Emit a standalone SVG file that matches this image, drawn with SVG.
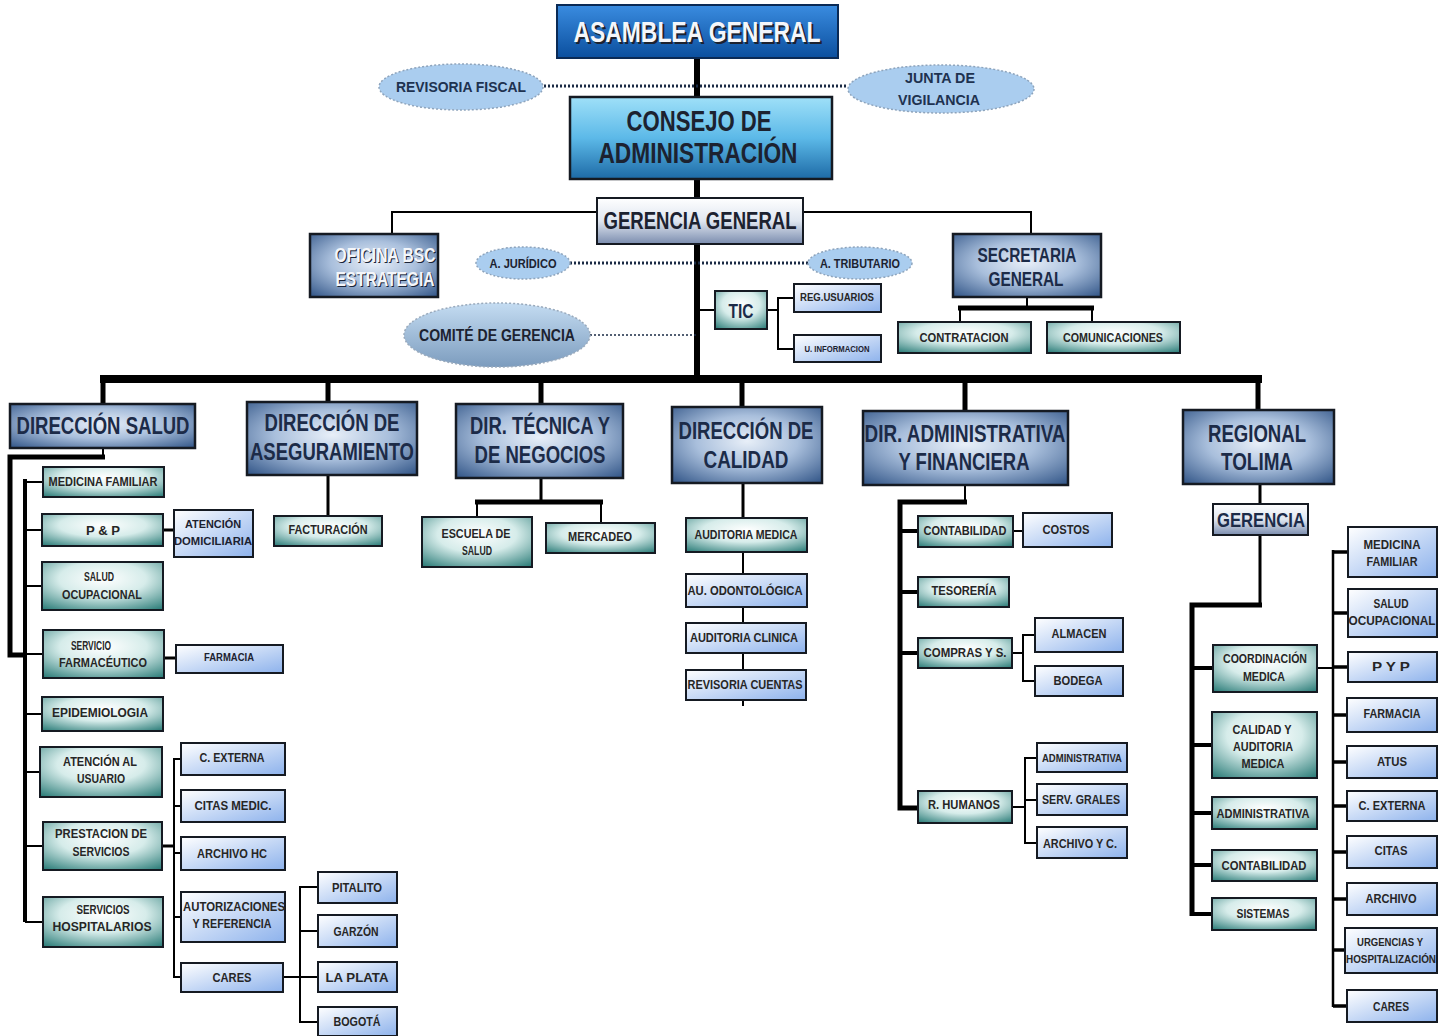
<svg xmlns="http://www.w3.org/2000/svg" width="1447" height="1036" viewBox="0 0 1447 1036">
<defs>
<linearGradient id="gAsm" x1="0" y1="0" x2="0" y2="1"><stop offset="0" stop-color="#3a8ce0"/><stop offset="1" stop-color="#0b4f9e"/></linearGradient>
<linearGradient id="gCon" x1="0" y1="0" x2="0" y2="1"><stop offset="0" stop-color="#9fe0f8"/><stop offset="0.5" stop-color="#5cb9e8"/><stop offset="1" stop-color="#1d6aa6"/></linearGradient>
<linearGradient id="gGer" x1="0" y1="0" x2="0" y2="1"><stop offset="0" stop-color="#ffffff"/><stop offset="0.5" stop-color="#dfe6f0"/><stop offset="1" stop-color="#7a8cae"/></linearGradient>
<radialGradient id="gDir" cx="0.5" cy="0.45" r="0.75"><stop offset="0" stop-color="#e8eff8"/><stop offset="0.45" stop-color="#a9bfdc"/><stop offset="1" stop-color="#2d5184"/></radialGradient>
<radialGradient id="gTeal" cx="0.5" cy="0.35" r="0.8"><stop offset="0" stop-color="#ffffff"/><stop offset="0.45" stop-color="#d6ecea"/><stop offset="1" stop-color="#2c7d79"/></radialGradient>
<linearGradient id="gLt" x1="0" y1="0" x2="1" y2="1"><stop offset="0" stop-color="#ffffff"/><stop offset="1" stop-color="#8db2ec"/></linearGradient>
<linearGradient id="gCom" x1="0" y1="0" x2="0" y2="1"><stop offset="0" stop-color="#c4dcf2"/><stop offset="1" stop-color="#7c9cbe"/></linearGradient>
<style>
.bx{stroke:#151a22;stroke-width:2}
.dir{fill:url(#gDir);stroke:#151a22;stroke-width:2.5}
.teal{fill:url(#gTeal)}
.lt{fill:url(#gLt)}
.el{fill:#aacdef;stroke:#8ea4bc;stroke-width:1.5;stroke-dasharray:2 2}
text{font-family:"Liberation Sans Narrow","Liberation Sans",Arial,sans-serif;font-weight:bold;text-anchor:middle;fill:#1c2230}
.s{font-size:12.5px;fill:#262626}
.xs{font-size:10px;fill:#262626}
.d{font-size:23px;fill:#1c2b48}
.m{font-size:20px;fill:#1c2b48}
.e{font-size:15px;fill:#1e3250}
.w{fill:#f4f6fa}
.sh{fill:#1a2438}
.k{stroke:#000;fill:none}
.dot{stroke:#1a2a44;fill:none;stroke-dasharray:2 2}
</style>
</defs>
<rect width="1447" height="1036" fill="#ffffff"/>

<g id="connectors">
<path class="k" stroke-width="6" d="M697,58V97M697,180V198M697,244V379"/>
<path class="k" stroke-width="8" d="M100,379H1262"/>
<path class="k" stroke-width="5" d="M103,379V404M328,379V402M541,379V404M742,379V407M965,379V411M1258,379V410"/>
<path class="dot" stroke-width="3" d="M540,86H848"/>
<path class="dot" stroke-width="3" d="M570,263H808"/>
<path class="dot" stroke-width="1.5" d="M590,335H697"/>
<path class="k" stroke-width="2" d="M597,212H392V234M803,212H1031V234"/>
<path class="k" stroke-width="2" d="M697,310H715M767,310H778M794,298H778V349H794"/>
<path class="k" stroke-width="2" d="M1027,297V308M960,308V322M1092,308V322"/>
<path class="k" stroke-width="5" d="M958,308H1094"/>
<path class="k" stroke-width="2" d="M103,448V457"/>
<path class="k" stroke-width="5" d="M105,457H10V655H25"/>
<path class="k" stroke-width="4" d="M25,479V922"/>
<path class="k" stroke-width="2" d="M25,482H43M25,530H42M25,586H42M25,654H43M25,714H42M25,772H40M25,846H43M25,922H43"/>
<path class="k" stroke-width="3" d="M163,530H174M164,658H176M162,846H174"/>
<path class="k" stroke-width="2" d="M181,759H174V977H181M174,806H181M174,853H181M174,917H181"/>
<path class="k" stroke-width="2" d="M283,977H300M318,887H300V1022H318M300,931H318M300,977H318"/>
<path class="k" stroke-width="3" d="M328,475V516M541,478V502"/>
<path class="k" stroke-width="5" d="M475,502H603"/>
<path class="k" stroke-width="2" d="M477,502V517M601,502V523"/>
<path class="k" stroke-width="3" d="M743,483V518"/>
<path class="k" stroke-width="2" d="M743,552V574M743,607V623M743,653V670M743,700V706"/>
<path class="k" stroke-width="2" d="M965,485V502"/>
<path class="k" stroke-width="5" d="M967,502H900V808H918"/>
<path class="k" stroke-width="4" d="M900,531H918M900,592H918M900,653H918"/>
<path class="k" stroke-width="2" d="M1013,531H1023M1012,653H1023M1035,635H1023V681H1035M1012,807H1025M1037,758H1025V843H1037M1025,800H1037"/>
<path class="k" stroke-width="3" d="M1260,484V504"/>
<path class="k" stroke-width="3" d="M1260,535V605"/>
<path class="k" stroke-width="5" d="M1262,605H1192V916"/>
<path class="k" stroke-width="4" d="M1192,668H1213M1192,745H1212M1192,813H1212M1192,865H1212M1190,914H1212"/>
<path class="k" stroke-width="2" d="M1317,668H1333"/>
<path class="k" stroke-width="2.5" d="M1333,550V1007"/>
<path class="k" stroke-width="3.5" d="M1333,552H1348M1333,613H1348M1333,667H1348M1333,715H1348M1333,762H1348M1333,806H1348M1333,852H1348M1333,899H1348M1333,950H1346M1333,1006H1348"/>
</g>

<g id="asamblea"><rect x="557" y="5" width="281" height="53" fill="url(#gAsm)" stroke="#0a2a55" stroke-width="2"/>
<text x="699" y="44" font-size="30" fill="#0a1a30" textLength="247" lengthAdjust="spacingAndGlyphs">ASAMBLEA GENERAL</text>
<text x="697" y="42" font-size="30" class="w" textLength="247" lengthAdjust="spacingAndGlyphs">ASAMBLEA GENERAL</text></g>
<g id="revisoria"><ellipse class="el" cx="461" cy="87" rx="82" ry="23"/><text class="e" x="461" y="92" textLength="130" lengthAdjust="spacingAndGlyphs">REVISORIA FISCAL</text></g>
<g id="junta"><ellipse class="el" cx="941" cy="89" rx="93" ry="24"/><text class="e" x="940" y="83" textLength="70" lengthAdjust="spacingAndGlyphs">JUNTA DE</text><text class="e" x="939" y="105" textLength="82" lengthAdjust="spacingAndGlyphs">VIGILANCIA</text></g>
<g id="consejo"><rect x="570" y="97" width="262" height="82" fill="url(#gCon)" stroke="#151a22" stroke-width="2.5"/>
<text x="699" y="131" font-size="29" fill="#0d1f3a" textLength="145" lengthAdjust="spacingAndGlyphs">CONSEJO DE</text>
<text x="698" y="163" font-size="29" fill="#0d1f3a" textLength="199" lengthAdjust="spacingAndGlyphs">ADMINISTRACIÓN</text></g>
<g id="gerencia-general"><rect x="597" y="198" width="206" height="46" fill="url(#gGer)" class="bx"/><text x="700" y="229" font-size="23" fill="#1a2030" textLength="193" lengthAdjust="spacingAndGlyphs">GERENCIA GENERAL</text></g>
<g id="oficina-bsc"><rect x="310" y="234" width="128" height="63" class="dir"/>
<text class="m sh" x="386" y="263" textLength="101" lengthAdjust="spacingAndGlyphs">OFICINA BSC</text><text class="m sh" x="386" y="287" textLength="99" lengthAdjust="spacingAndGlyphs">ESTRATEGIA</text>
<text class="m w" x="385" y="262" textLength="101" lengthAdjust="spacingAndGlyphs">OFICINA BSC</text><text class="m w" x="385" y="286" textLength="99" lengthAdjust="spacingAndGlyphs">ESTRATEGIA</text></g>
<g id="juridico"><ellipse class="el" cx="523" cy="263" rx="47" ry="16"/><text x="523" y="268" font-size="13" fill="#1e3250" textLength="67" lengthAdjust="spacingAndGlyphs">A. JURÍDICO</text></g>
<g id="tributario"><ellipse class="el" cx="860" cy="263" rx="52" ry="16"/><text x="860" y="268" font-size="13" fill="#1e3250" textLength="80" lengthAdjust="spacingAndGlyphs">A. TRIBUTARIO</text></g>
<g id="secretaria"><rect x="953" y="234" width="148" height="63" class="dir"/><text class="m" x="1027" y="262" textLength="99" lengthAdjust="spacingAndGlyphs">SECRETARIA</text><text class="m" x="1026" y="286" textLength="75" lengthAdjust="spacingAndGlyphs">GENERAL</text></g>
<g id="contratacion"><rect x="898" y="322" width="133" height="31" class="bx teal"/><text class="s" x="964" y="342" textLength="89" lengthAdjust="spacingAndGlyphs">CONTRATACION</text></g>
<g id="comunicaciones"><rect x="1047" y="322" width="133" height="31" class="bx teal"/><text class="s" x="1113" y="342" textLength="100" lengthAdjust="spacingAndGlyphs">COMUNICACIONES</text></g>
<g id="tic"><rect x="715" y="291" width="52" height="38" class="bx teal"/><text class="m" x="741" y="318" textLength="25" lengthAdjust="spacingAndGlyphs">TIC</text></g>
<g id="reg-usuarios"><rect x="794" y="284" width="87" height="28" class="bx lt"/><text class="xs" x="837" y="301" textLength="74" lengthAdjust="spacingAndGlyphs">REG.USUARIOS</text></g>
<g id="u-informacion"><rect x="794" y="335" width="87" height="27" class="bx lt"/><text x="837" y="352" font-size="9" fill="#262626" textLength="65" lengthAdjust="spacingAndGlyphs">U. INFORMACION</text></g>
<g id="comite"><ellipse cx="497" cy="335" rx="93" ry="32" fill="url(#gCom)" stroke="#9aaabc" stroke-width="1.5" stroke-dasharray="2 2"/><text x="497" y="341" font-size="16" fill="#1e3250" textLength="156" lengthAdjust="spacingAndGlyphs">COMITÉ DE GERENCIA</text></g>

<g id="dir-salud"><rect x="10" y="404" width="185" height="44" class="dir"/><text class="d" x="103" y="434" textLength="173" lengthAdjust="spacingAndGlyphs">DIRECCIÓN SALUD</text></g>
<g id="dir-aseguramiento"><rect x="247" y="402" width="170" height="73" class="dir"/><text class="d" x="332" y="431" textLength="135" lengthAdjust="spacingAndGlyphs">DIRECCIÓN DE</text><text class="d" x="332" y="460" textLength="164" lengthAdjust="spacingAndGlyphs">ASEGURAMIENTO</text></g>
<g id="dir-tecnica"><rect x="456" y="404" width="167" height="74" class="dir"/><text class="d" x="540" y="434" textLength="140" lengthAdjust="spacingAndGlyphs">DIR. TÉCNICA Y</text><text class="d" x="540" y="463" textLength="131" lengthAdjust="spacingAndGlyphs">DE NEGOCIOS</text></g>
<g id="dir-calidad"><rect x="672" y="407" width="150" height="76" class="dir"/><text class="d" x="746" y="439" textLength="135" lengthAdjust="spacingAndGlyphs">DIRECCIÓN DE</text><text class="d" x="746" y="468" textLength="85" lengthAdjust="spacingAndGlyphs">CALIDAD</text></g>
<g id="dir-administrativa"><rect x="863" y="411" width="205" height="74" class="dir"/><text class="d" x="965" y="442" textLength="201" lengthAdjust="spacingAndGlyphs">DIR. ADMINISTRATIVA</text><text class="d" x="964" y="470" textLength="131" lengthAdjust="spacingAndGlyphs">Y FINANCIERA</text></g>
<g id="regional-tolima"><rect x="1183" y="410" width="151" height="74" class="dir"/><text class="d" x="1257" y="442" textLength="98" lengthAdjust="spacingAndGlyphs">REGIONAL</text><text class="d" x="1257" y="470" textLength="72" lengthAdjust="spacingAndGlyphs">TOLIMA</text></g>

<g id="medicina-familiar"><rect x="43" y="467" width="121" height="30" class="bx teal"/><text class="s" x="103" y="486" textLength="109" lengthAdjust="spacingAndGlyphs">MEDICINA FAMILIAR</text></g>
<g id="pyp-salud"><rect x="42" y="514" width="121" height="32" class="bx teal"/><text class="s" x="103" y="535" textLength="34" lengthAdjust="spacingAndGlyphs">P &amp; P</text></g>
<g id="atencion-domiciliaria"><rect x="174" y="510" width="79" height="47" class="bx lt"/><text x="213" y="528" font-size="11.5" fill="#262626" textLength="56" lengthAdjust="spacingAndGlyphs">ATENCIÓN</text><text x="213" y="545" font-size="11.5" fill="#262626" textLength="78" lengthAdjust="spacingAndGlyphs">DOMICILIARIA</text></g>
<g id="salud-ocupacional"><rect x="42" y="562" width="121" height="48" class="bx teal"/><text class="s" x="99" y="581" textLength="30" lengthAdjust="spacingAndGlyphs">SALUD</text><text class="s" x="102" y="599" textLength="80" lengthAdjust="spacingAndGlyphs">OCUPACIONAL</text></g>
<g id="servicio-farmaceutico"><rect x="43" y="630" width="121" height="48" class="bx teal"/><text class="s" x="91" y="650" textLength="40" lengthAdjust="spacingAndGlyphs">SERVICIO</text><text class="s" x="103" y="667" textLength="88" lengthAdjust="spacingAndGlyphs">FARMACÉUTICO</text></g>
<g id="farmacia-salud"><rect x="176" y="645" width="107" height="28" class="bx lt"/><text x="229" y="661" font-size="10" fill="#262626" textLength="50" lengthAdjust="spacingAndGlyphs">FARMACIA</text></g>
<g id="epidemiologia"><rect x="42" y="697" width="121" height="34" class="bx teal"/><text class="s" x="100" y="717" textLength="96" lengthAdjust="spacingAndGlyphs">EPIDEMIOLOGIA</text></g>
<g id="atencion-usuario"><rect x="40" y="747" width="122" height="50" class="bx teal"/><text class="s" x="100" y="766" textLength="74" lengthAdjust="spacingAndGlyphs">ATENCIÓN AL</text><text class="s" x="101" y="783" textLength="48" lengthAdjust="spacingAndGlyphs">USUARIO</text></g>
<g id="prestacion-servicios"><rect x="43" y="822" width="119" height="48" class="bx teal"/><text class="s" x="101" y="838" textLength="92" lengthAdjust="spacingAndGlyphs">PRESTACION DE</text><text class="s" x="101" y="856" textLength="57" lengthAdjust="spacingAndGlyphs">SERVICIOS</text></g>
<g id="servicios-hospitalarios"><rect x="43" y="897" width="120" height="50" class="bx teal"/><text class="s" x="103" y="914" textLength="53" lengthAdjust="spacingAndGlyphs">SERVICIOS</text><text class="s" x="102" y="931" textLength="99" lengthAdjust="spacingAndGlyphs">HOSPITALARIOS</text></g>
<g id="c-externa-salud"><rect x="181" y="743" width="104" height="32" class="bx lt"/><text class="s" x="232" y="762" textLength="65" lengthAdjust="spacingAndGlyphs">C. EXTERNA</text></g>
<g id="citas-medic"><rect x="181" y="790" width="104" height="32" class="bx lt"/><text class="s" x="233" y="810" textLength="77" lengthAdjust="spacingAndGlyphs">CITAS MEDIC.</text></g>
<g id="archivo-hc"><rect x="181" y="837" width="104" height="33" class="bx lt"/><text class="s" x="232" y="858" textLength="70" lengthAdjust="spacingAndGlyphs">ARCHIVO HC</text></g>
<g id="autorizaciones"><rect x="181" y="892" width="104" height="50" class="bx lt"/><text class="s" x="234" y="911" textLength="102" lengthAdjust="spacingAndGlyphs">AUTORIZACIONES</text><text class="s" x="232" y="928" textLength="79" lengthAdjust="spacingAndGlyphs">Y REFERENCIA</text></g>
<g id="cares-salud"><rect x="181" y="963" width="102" height="29" class="bx lt"/><text class="s" x="232" y="982" textLength="39" lengthAdjust="spacingAndGlyphs">CARES</text></g>
<g id="pitalito"><rect x="318" y="872" width="79" height="31" class="bx lt"/><text class="s" x="357" y="892" textLength="50" lengthAdjust="spacingAndGlyphs">PITALITO</text></g>
<g id="garzon"><rect x="318" y="915" width="79" height="32" class="bx lt"/><text class="s" x="356" y="936" textLength="45" lengthAdjust="spacingAndGlyphs">GARZÓN</text></g>
<g id="la-plata"><rect x="318" y="962" width="79" height="30" class="bx lt"/><text class="s" x="357" y="982" textLength="63" lengthAdjust="spacingAndGlyphs">LA PLATA</text></g>
<g id="bogota"><rect x="318" y="1007" width="79" height="29" class="bx lt"/><text class="s" x="357" y="1026" textLength="47" lengthAdjust="spacingAndGlyphs">BOGOTÁ</text></g>

<g id="facturacion"><rect x="274" y="516" width="108" height="30" class="bx teal"/><text class="s" x="328" y="534" textLength="79" lengthAdjust="spacingAndGlyphs">FACTURACIÓN</text></g>
<g id="escuela-salud"><rect x="422" y="517" width="110" height="50" class="bx teal"/><text class="s" x="476" y="538" textLength="69" lengthAdjust="spacingAndGlyphs">ESCUELA DE</text><text class="s" x="477" y="555" textLength="30" lengthAdjust="spacingAndGlyphs">SALUD</text></g>
<g id="mercadeo"><rect x="546" y="523" width="109" height="30" class="bx teal"/><text class="s" x="600" y="541" textLength="64" lengthAdjust="spacingAndGlyphs">MERCADEO</text></g>

<g id="auditoria-medica"><rect x="686" y="518" width="121" height="34" class="bx teal"/><text class="s" x="746" y="539" textLength="103" lengthAdjust="spacingAndGlyphs">AUDITORIA MEDICA</text></g>
<g id="au-odontologica"><rect x="686" y="574" width="121" height="33" class="bx lt"/><text class="s" x="745" y="595" textLength="115" lengthAdjust="spacingAndGlyphs">AU. ODONTOLÓGICA</text></g>
<g id="auditoria-clinica"><rect x="686" y="623" width="120" height="30" class="bx lt"/><text class="s" x="744" y="642" textLength="108" lengthAdjust="spacingAndGlyphs">AUDITORIA CLINICA</text></g>
<g id="revisoria-cuentas"><rect x="686" y="670" width="120" height="30" class="bx lt"/><text class="s" x="745" y="689" textLength="115" lengthAdjust="spacingAndGlyphs">REVISORIA CUENTAS</text></g>

<g id="contabilidad-adm"><rect x="918" y="516" width="95" height="31" class="bx teal"/><text class="s" x="965" y="535" textLength="83" lengthAdjust="spacingAndGlyphs">CONTABILIDAD</text></g>
<g id="costos"><rect x="1023" y="513" width="89" height="34" class="bx lt"/><text class="s" x="1066" y="534" textLength="47" lengthAdjust="spacingAndGlyphs">COSTOS</text></g>
<g id="tesoreria"><rect x="918" y="577" width="91" height="30" class="bx teal"/><text class="s" x="964" y="595" textLength="65" lengthAdjust="spacingAndGlyphs">TESORERÍA</text></g>
<g id="compras"><rect x="918" y="638" width="94" height="30" class="bx teal"/><text class="s" x="965" y="657" textLength="83" lengthAdjust="spacingAndGlyphs">COMPRAS Y S.</text></g>
<g id="almacen"><rect x="1035" y="618" width="88" height="34" class="bx lt"/><text class="s" x="1079" y="638" textLength="55" lengthAdjust="spacingAndGlyphs">ALMACEN</text></g>
<g id="bodega"><rect x="1035" y="666" width="88" height="30" class="bx lt"/><text class="s" x="1078" y="685" textLength="49" lengthAdjust="spacingAndGlyphs">BODEGA</text></g>
<g id="r-humanos"><rect x="918" y="791" width="94" height="32" class="bx teal"/><text class="s" x="964" y="809" textLength="72" lengthAdjust="spacingAndGlyphs">R. HUMANOS</text></g>
<g id="administrativa-adm"><rect x="1037" y="743" width="90" height="29" class="bx lt"/><text class="xs" x="1082" y="762" textLength="80" lengthAdjust="spacingAndGlyphs">ADMINISTRATIVA</text></g>
<g id="serv-grales"><rect x="1037" y="784" width="90" height="31" class="bx lt"/><text class="s" x="1081" y="804" textLength="78" lengthAdjust="spacingAndGlyphs">SERV. GRALES</text></g>
<g id="archivo-yc"><rect x="1037" y="827" width="90" height="31" class="bx lt"/><text class="s" x="1080" y="848" textLength="74" lengthAdjust="spacingAndGlyphs">ARCHIVO Y C.</text></g>

<g id="gerencia-regional"><rect x="1213" y="504" width="95" height="31" fill="url(#gGer)" class="bx"/><text class="m" x="1261" y="527" fill="#1a2030" textLength="88" lengthAdjust="spacingAndGlyphs">GERENCIA</text></g>
<g id="coordinacion-medica"><rect x="1213" y="645" width="104" height="47" class="bx teal"/><text class="s" x="1265" y="663" textLength="84" lengthAdjust="spacingAndGlyphs">COORDINACIÓN</text><text class="s" x="1264" y="681" textLength="42" lengthAdjust="spacingAndGlyphs">MEDICA</text></g>
<g id="calidad-auditoria"><rect x="1212" y="712" width="105" height="66" class="bx teal"/><text class="s" x="1262" y="734" textLength="59" lengthAdjust="spacingAndGlyphs">CALIDAD Y</text><text class="s" x="1263" y="751" textLength="60" lengthAdjust="spacingAndGlyphs">AUDITORIA</text><text class="s" x="1263" y="768" textLength="43" lengthAdjust="spacingAndGlyphs">MEDICA</text></g>
<g id="administrativa-reg"><rect x="1212" y="797" width="105" height="32" class="bx teal"/><text class="s" x="1263" y="818" textLength="93" lengthAdjust="spacingAndGlyphs">ADMINISTRATIVA</text></g>
<g id="contabilidad-reg"><rect x="1212" y="850" width="105" height="31" class="bx teal"/><text class="s" x="1264" y="870" textLength="85" lengthAdjust="spacingAndGlyphs">CONTABILIDAD</text></g>
<g id="sistemas"><rect x="1212" y="898" width="104" height="32" class="bx teal"/><text class="s" x="1263" y="918" textLength="53" lengthAdjust="spacingAndGlyphs">SISTEMAS</text></g>
<g id="medicina-familiar-reg"><rect x="1348" y="527" width="89" height="50" class="bx lt"/><text class="s" x="1392" y="549" textLength="57" lengthAdjust="spacingAndGlyphs">MEDICINA</text><text class="s" x="1392" y="566" textLength="51" lengthAdjust="spacingAndGlyphs">FAMILIAR</text></g>
<g id="salud-ocupacional-reg"><rect x="1348" y="589" width="89" height="48" class="bx lt"/><text class="s" x="1391" y="608" textLength="35" lengthAdjust="spacingAndGlyphs">SALUD</text><text class="s" x="1392" y="625" textLength="87" lengthAdjust="spacingAndGlyphs">OCUPACIONAL</text></g>
<g id="pyp-reg"><rect x="1348" y="652" width="89" height="30" class="bx lt"/><text class="s" x="1391" y="671" textLength="38" lengthAdjust="spacingAndGlyphs">P Y P</text></g>
<g id="farmacia-reg"><rect x="1347" y="698" width="90" height="34" class="bx lt"/><text class="s" x="1392" y="718" textLength="57" lengthAdjust="spacingAndGlyphs">FARMACIA</text></g>
<g id="atus"><rect x="1347" y="746" width="90" height="32" class="bx lt"/><text class="s" x="1392" y="766" textLength="30" lengthAdjust="spacingAndGlyphs">ATUS</text></g>
<g id="c-externa-reg"><rect x="1347" y="791" width="90" height="30" class="bx lt"/><text class="s" x="1392" y="810" textLength="67" lengthAdjust="spacingAndGlyphs">C. EXTERNA</text></g>
<g id="citas-reg"><rect x="1347" y="836" width="90" height="32" class="bx lt"/><text class="s" x="1391" y="855" textLength="33" lengthAdjust="spacingAndGlyphs">CITAS</text></g>
<g id="archivo-reg"><rect x="1347" y="883" width="90" height="32" class="bx lt"/><text class="s" x="1391" y="903" textLength="51" lengthAdjust="spacingAndGlyphs">ARCHIVO</text></g>
<g id="urgencias"><rect x="1345" y="928" width="92" height="45" class="bx lt"/><text class="xs" x="1390" y="946" textLength="66" lengthAdjust="spacingAndGlyphs">URGENCIAS Y</text><text class="xs" x="1391" y="963" textLength="90" lengthAdjust="spacingAndGlyphs">HOSPITALIZACIÓN</text></g>
<g id="cares-reg"><rect x="1347" y="990" width="90" height="32" class="bx lt"/><text class="s" x="1391" y="1011" textLength="36" lengthAdjust="spacingAndGlyphs">CARES</text></g>
</svg>
